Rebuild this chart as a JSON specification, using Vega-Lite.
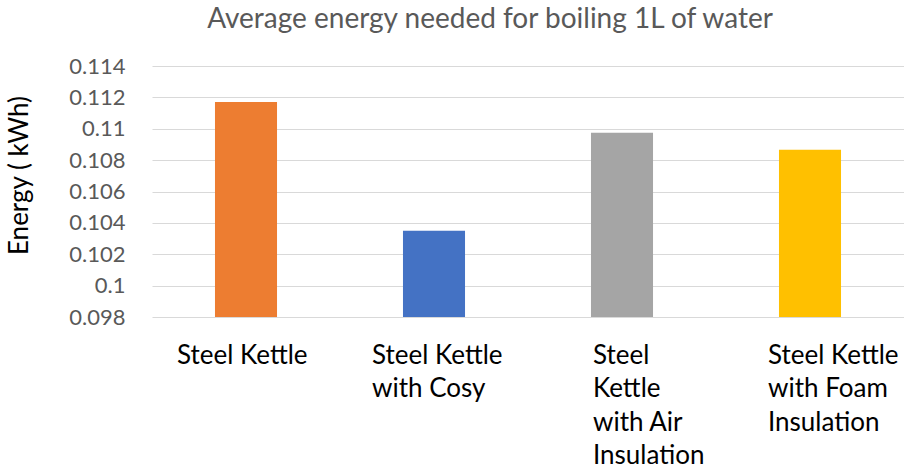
{
  "$schema": "https://vega.github.io/schema/vega-lite/v6.json",
  "autosize": {"type": "none"},
  "padding": {"left": 152, "top": 66, "right": 0, "bottom": 153},
  "width": 752,
  "height": 251,
  "background": "white",
  "title": {
    "text": "Average energy needed for boiling 1L of water",
    "font": "Lato",
    "fontSize": 28,
    "fontWeight": "normal",
    "color": "#595959",
    "anchor": "middle",
    "dx": -38,
    "offset": 21
  },
  "data": {
    "values": [
      {"kettle": "Steel Kettle", "energy": 0.11171},
      {"kettle": "Steel Kettle with Cosy", "energy": 0.10350},
      {"kettle": "Steel Kettle with Air Insulation", "energy": 0.10975},
      {"kettle": "Steel Kettle with Foam Insulation", "energy": 0.10866}
    ]
  },
  "mark": {"type": "bar", "clip": true},
  "encoding": {
    "x": {
      "field": "kettle",
      "type": "nominal",
      "sort": null,
      "scale": {"paddingInner": 0.67, "paddingOuter": 0.335},
      "axis": {
        "title": null,
        "domain": false,
        "ticks": false,
        "labelAngle": 0,
        "labelFont": "Lato",
        "labelFontSize": 26,
        "labelColor": "black",
        "labelAlign": "left",
        "labelBaseline": "top",
        "labelLineHeight": 33.5,
        "labelPadding": 25,
        "labelLimit": 0,
        "labelExpr": "datum.value == 'Steel Kettle with Cosy' ? ['Steel Kettle','with Cosy'] : datum.value == 'Steel Kettle with Air Insulation' ? ['Steel','Kettle','with Air','Insulation'] : datum.value == 'Steel Kettle with Foam Insulation' ? ['Steel Kettle','with Foam','Insulation'] : datum.value",
        "labelOffset": {"expr": "datum.value == 'Steel Kettle' ? -69 : datum.value == 'Steel Kettle with Cosy' ? -62 : datum.value == 'Steel Kettle with Air Insulation' ? -29 : -42"}
      }
    },
    "y": {
      "field": "energy",
      "type": "quantitative",
      "scale": {"domain": [0.098, 0.114], "zero": false, "nice": false},
      "axis": {
        "title": "Energy ( kWh)",
        "titleFont": "Lato",
        "titleFontSize": 26,
        "titleFontWeight": "normal",
        "titleColor": "black",
        "titleX": -120,
        "titleY": 109,
        "values": [0.098, 0.1, 0.102, 0.104, 0.106, 0.108, 0.11, 0.112, 0.114],
        "format": "~g",
        "domain": false,
        "ticks": false,
        "labelFont": "Lato",
        "labelFontSize": 22,
        "labelColor": "#595959",
        "labelPadding": 27,
        "grid": true,
        "gridColor": "#d9d9d9",
        "gridWidth": 1
      }
    },
    "color": {
      "field": "kettle",
      "type": "nominal",
      "sort": null,
      "scale": {"range": ["#ED7D31", "#4472C4", "#A5A5A5", "#FFC000"]},
      "legend": null
    }
  },
  "config": {"view": {"stroke": null}}
}
